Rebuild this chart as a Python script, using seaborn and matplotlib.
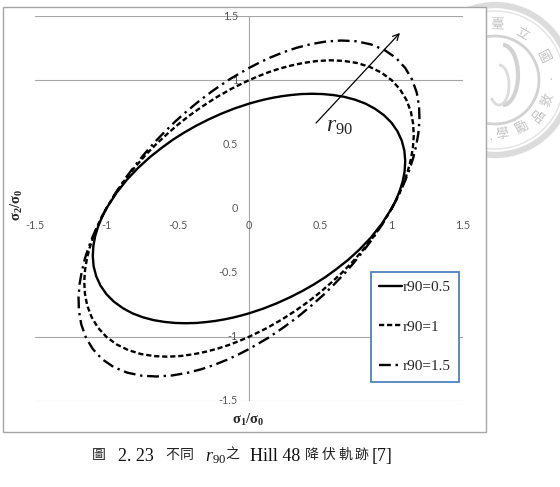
import matplotlib
matplotlib.use("Agg")
import matplotlib.pyplot as plt
import seaborn as sns
from matplotlib.patches import Rectangle, Circle, Arc

# ---------------- data ----------------
legend_labels = ["r90=0.5", "r90=1", "r90=1.5"]
tick_values = [-1.5, -1, -0.5, 0, 0.5, 1, 1.5]
tick_labels = ["-1.5", "-1", "-0.5", "0", "0.5", "1", "1.5"]
grid_y = [-1.5, -1, 1, 1.5]

# r90 = 0.5 (solid)
r05_s1 = [1.000, 1.031, 1.057, 1.078, 1.091, 1.095, 1.089, 1.071, 1.041, 0.999, 0.947, 0.885, 0.817,
          0.743, 0.668, 0.591, 0.515, 0.441, 0.369, 0.301, 0.235, 0.172, 0.112, 0.055, 0.000,
          -0.103, -0.198, -0.287, -0.372, -0.454, -0.535, -0.614, -0.694, -0.774, -0.853, -0.929,
          -1.000, -1.031, -1.057, -1.078, -1.091, -1.095, -1.089, -1.071, -1.041, -0.999, -0.947, -0.885, -0.817,
          -0.743, -0.668, -0.591, -0.515, -0.441, -0.369, -0.301, -0.235, -0.172, -0.112, -0.055, 0.000,
          0.103, 0.198, 0.287, 0.372, 0.454, 0.535, 0.614, 0.694, 0.774, 0.853, 0.929, 1.000]
r05_s2 = [0.000, 0.068, 0.139, 0.214, 0.292, 0.372, 0.451, 0.528, 0.601, 0.668, 0.726, 0.776, 0.817,
          0.848, 0.870, 0.884, 0.892, 0.894, 0.892, 0.885, 0.876, 0.864, 0.850, 0.834, 0.817,
          0.779, 0.737, 0.692, 0.644, 0.592, 0.535, 0.471, 0.401, 0.320, 0.228, 0.122,
          0.000, -0.068, -0.139, -0.214, -0.292, -0.372, -0.451, -0.528, -0.601, -0.668, -0.726, -0.776, -0.817,
          -0.848, -0.870, -0.884, -0.892, -0.894, -0.892, -0.885, -0.876, -0.864, -0.850, -0.834, -0.817,
          -0.779, -0.737, -0.692, -0.644, -0.592, -0.535, -0.471, -0.401, -0.320, -0.228, -0.122, 0.000]

# r90 = 1 (dashed)
r10_s1 = [1.000, 1.032, 1.063, 1.091, 1.115, 1.135, 1.149, 1.155, 1.150, 1.134, 1.103, 1.059, 1.000,
          0.928, 0.847, 0.757, 0.664, 0.569, 0.476, 0.385, 0.299, 0.217, 0.140, 0.068, 0.000,
          -0.123, -0.232, -0.329, -0.418, -0.500, -0.577, -0.652, -0.724, -0.794, -0.864, -0.933,
          -1.000, -1.032, -1.063, -1.091, -1.115, -1.135, -1.149, -1.155, -1.150, -1.134, -1.103, -1.059, -1.000,
          -0.928, -0.847, -0.757, -0.664, -0.569, -0.476, -0.385, -0.299, -0.217, -0.140, -0.068, 0.000,
          0.123, 0.232, 0.329, 0.418, 0.500, 0.577, 0.652, 0.724, 0.794, 0.864, 0.933, 1.000]
r10_s2 = [0.000, 0.068, 0.140, 0.217, 0.299, 0.385, 0.476, 0.569, 0.664, 0.757, 0.847, 0.928, 1.000,
          1.059, 1.103, 1.134, 1.150, 1.155, 1.149, 1.135, 1.115, 1.091, 1.063, 1.032, 1.000,
          0.933, 0.864, 0.794, 0.724, 0.652, 0.577, 0.500, 0.418, 0.329, 0.232, 0.123,
          0.000, -0.068, -0.140, -0.217, -0.299, -0.385, -0.476, -0.569, -0.664, -0.757, -0.847, -0.928, -1.000,
          -1.059, -1.103, -1.134, -1.150, -1.155, -1.149, -1.135, -1.115, -1.091, -1.063, -1.032, -1.000,
          -0.933, -0.864, -0.794, -0.724, -0.652, -0.577, -0.500, -0.418, -0.329, -0.232, -0.123, 0.000]

# r90 = 1.5 (long dash dot)
r15_s1 = [1.000, 1.033, 1.064, 1.095, 1.124, 1.150, 1.171, 1.187, 1.195, 1.192, 1.176, 1.144, 1.095,
          1.030, 0.948, 0.854, 0.752, 0.646, 0.539, 0.435, 0.336, 0.242, 0.155, 0.075, 0.000,
          -0.133, -0.247, -0.348, -0.437, -0.519, -0.594, -0.666, -0.734, -0.801, -0.868, -0.934,
          -1.000, -1.033, -1.064, -1.095, -1.124, -1.150, -1.171, -1.187, -1.195, -1.192, -1.176, -1.144, -1.095,
          -1.030, -0.948, -0.854, -0.752, -0.646, -0.539, -0.435, -0.336, -0.242, -0.155, -0.075, 0.000,
          0.133, 0.247, 0.348, 0.437, 0.519, 0.594, 0.666, 0.734, 0.801, 0.868, 0.934, 1.000]
r15_s2 = [0.000, 0.068, 0.140, 0.218, 0.301, 0.390, 0.485, 0.585, 0.690, 0.796, 0.902, 1.003, 1.095,
          1.174, 1.236, 1.279, 1.303, 1.309, 1.301, 1.281, 1.253, 1.218, 1.179, 1.138, 1.095,
          1.009, 0.923, 0.839, 0.757, 0.676, 0.594, 0.511, 0.424, 0.332, 0.233, 0.123,
          0.000, -0.068, -0.140, -0.218, -0.301, -0.390, -0.485, -0.585, -0.690, -0.796, -0.902, -1.003, -1.095,
          -1.174, -1.236, -1.279, -1.303, -1.309, -1.301, -1.281, -1.253, -1.218, -1.179, -1.138, -1.095,
          -1.009, -0.923, -0.839, -0.757, -0.676, -0.594, -0.511, -0.424, -0.332, -0.233, -0.123, 0.000]

# ---------------- style ----------------
sns.set_style("white")
plt.rcParams["font.family"] = ["Liberation Serif", "Noto Sans CJK TC", "DejaVu Sans"]
plt.rcParams["mathtext.fontset"] = "custom"
plt.rcParams["mathtext.rm"] = "Liberation Serif"
plt.rcParams["mathtext.it"] = "Liberation Serif:italic"
plt.rcParams["mathtext.bf"] = "Liberation Serif:bold"

W, H = 560, 487
fig = plt.figure(figsize=(W / 100, H / 100), dpi=100)
fig.patch.set_facecolor("white")

# background layer in pixel coordinates (frame, watermark, caption)
bg = fig.add_axes([0, 0, 1, 1], zorder=0)
bg.set_xlim(0, W)
bg.set_ylim(H, 0)
bg.axis("off")

seal_c = "#D2D2D2"
cx, cy = 495, 80
bg.add_patch(Circle((cx, cy), 75, fill=False, ec="#DCDCDC", lw=4.5, zorder=1))
bg.add_patch(Circle((cx, cy), 69, fill=False, ec="#E4E4E4", lw=1.0, zorder=1))
bg.add_patch(Circle((cx, cy), 44, fill=False, ec=seal_c, lw=2.0, zorder=1))
bg.add_patch(Arc((cx + 8, cy - 5), 30, 60, theta1=-90, theta2=90, ec=seal_c, lw=3, zorder=1))
bg.add_patch(Arc((cx + 4, cy + 5), 20, 40, theta1=-90, theta2=120, ec="#DCDCDC", lw=2, zorder=1))
for ch, (px, py, rot) in {"臺": (497, 25, -2), "立": (522, 34, -30), "國": (543, 57, -64),
                          "敦": (548, 100, 69), "品": (539, 116, 52), "勵": (522, 128, 30),
                          "學": (502, 135, 8)}.items():
    bg.text(px, py, ch, fontsize=9.5, color="#C4C4C4", ha="center", va="center",
            rotation=rot, family=["Noto Sans CJK TC"], zorder=1)
bg.text(551, 80, "·", fontsize=10, color="#C4C4C4", ha="center", va="center", zorder=1)
bg.text(491, 141, "·", fontsize=10, color="#C4C4C4", ha="center", va="center", zorder=1)

# chart area frame (opaque white)
bg.add_patch(Rectangle((3, 7), 483, 425, facecolor="white", edgecolor="#A6A6A6", lw=1.0, zorder=2))

# ---------------- plot area ----------------
ax = fig.add_axes([35 / W, 1 - 401 / H, 428 / W, 385 / H], zorder=1)
ax.set_facecolor("none")
ax.set_xlim(-1.5, 1.5)
ax.set_ylim(-1.5, 1.5)
for s in ax.spines.values():
    s.set_visible(False)
ax.set_xticks([])
ax.set_yticks([])

for v in grid_y:
    ax.axhline(v, color="#A5A5A5", lw=0.8, zorder=1)
ax.axvline(0, color="#A5A5A5", lw=0.8, zorder=1)

tick_font = dict(family=["Lato", "DejaVu Sans"], fontsize=7.8, color="#595959")
for v, lab in zip(tick_values, tick_labels):
    ax.text(-0.077, v, lab, ha="right", va="center", zorder=2, **tick_font)
    ax.text(v, -0.129, lab, ha="center", va="center", zorder=2, **tick_font)

styles = ["-", (0, (2.2, 1.2)), (0, (5, 2, 1, 2))]
curves = [(r05_s1, r05_s2), (r10_s1, r10_s2), (r15_s1, r15_s2)]
handles = []
for (xs, ys), ls, lab in zip(curves, styles, legend_labels):
    sns.lineplot(x=xs, y=ys, sort=False, estimator=None, color="black", lw=1.7,
                 linestyle=ls, ax=ax, zorder=3, solid_joinstyle="round", dash_joinstyle="round")
    handles.append(ax.lines[-1])

leg = ax.legend(handles, legend_labels, loc="upper left", bbox_to_anchor=(0.785, 0.335),
                bbox_transform=ax.transAxes, frameon=True, fancybox=False, framealpha=1,
                edgecolor="#4F81BD", borderpad=0.55, labelspacing=1.7, handlelength=1.45,
                handletextpad=0.1, borderaxespad=0,
                prop={"family": "Liberation Serif", "size": 11})
leg.get_frame().set_linewidth(1.3)
leg.set_zorder(5)

# arrow and r90 annotation
ax.annotate("", xy=(1.058, 1.368), xytext=(0.47, 0.666),
            arrowprops=dict(arrowstyle="->", color="black", lw=0.9, shrinkA=0, shrinkB=0,
                            mutation_scale=11), zorder=4)
ax.text(0.54, 0.596, r"$\mathit{r}_{\mathit{90}}$", fontsize=17, ha="left", va="baseline", zorder=4)

# axis titles
fig.text(248 / W, 1 - 420 / H, r"$\mathbf{\sigma_1/\sigma_0}$", fontsize=10.5, ha="center", va="center")
fig.text(17 / W, 1 - 205 / H, r"$\mathbf{\sigma_2/\sigma_0}$", fontsize=10.5, ha="center", va="center",
         rotation=90)

# caption (pieces placed where they sit in the reference)
cjk = ["Noto Sans CJK TC"]
serif = ["Liberation Serif", "DejaVu Serif"]
caption_serif = [("2. 23", 118), (r"$\mathit{r}_{\mathit{90}}$", 205), ("Hill 48", 250), ("[7]", 372)]
caption_cjk = [("圖", 92), ("不", 165), ("同", 180), ("之", 225), ("降", 305), ("伏", 322),
               ("軌", 338), ("跡", 355)]
for s, px in caption_serif:
    bg.text(px, 461, s, family=serif, fontsize=13, ha="left", va="baseline", color="#111111", zorder=3)
for s, px in caption_cjk:
    bg.text(px, 459, s, family=cjk, fontsize=10, ha="left", va="baseline", color="#222222", zorder=3)

fig.savefig("out.png", dpi=100, facecolor="white")
